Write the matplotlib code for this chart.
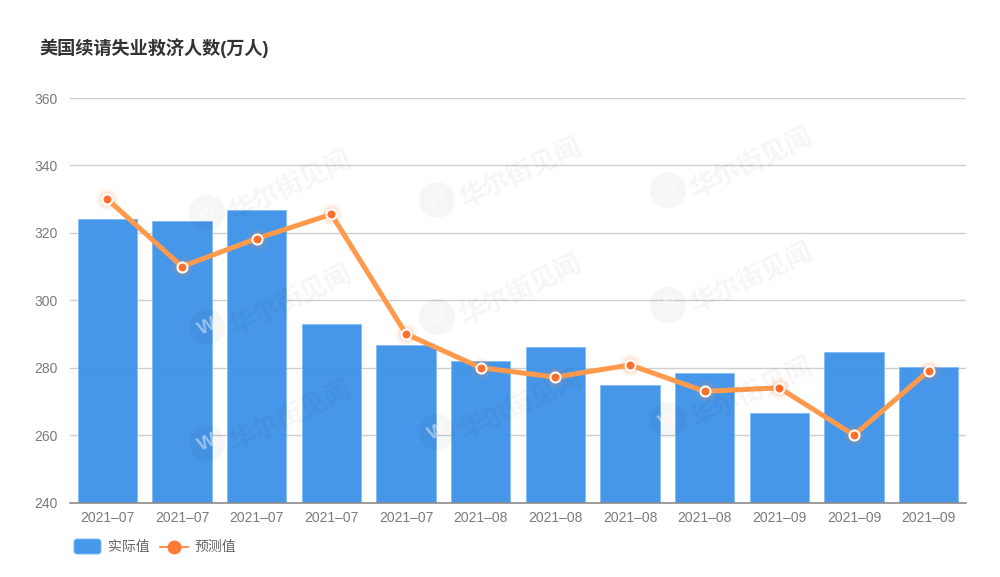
import matplotlib
matplotlib.use('Agg')
import matplotlib.pyplot as plt
from matplotlib.patches import Circle, FancyBboxPatch
from matplotlib.lines import Line2D

plt.rcParams['font.family'] = ['Liberation Sans', 'Noto Sans CJK SC', 'DejaVu Sans']

months = ['2021-07'] * 5 + ['2021-08'] * 4 + ['2021-09'] * 3
actual = [324.2, 323.6, 326.9, 293.0, 286.6, 282.0, 286.2, 274.9, 278.3, 266.6, 284.5, 280.2]
forecast = [330.0, 310.0, 318.3, 325.5, 290.0, 280.0, 277.2, 280.8, 273.0, 274.0, 260.0, 279.0]
yticks = [240, 260, 280, 300, 320, 340, 360]

W, H = 1000, 577
fig = plt.figure(figsize=(10, 5.77), dpi=100)
ax = fig.add_axes([70 / W, 1 - 502.5 / H, 896 / W, 404.5 / H])

x = list(range(len(months)))
ax.bar(x, actual, width=0.795, color='#3e93e9', alpha=0.96, edgecolor='#7ab8f4', linewidth=0.5, zorder=2)

# glow under the points
for size, a in [(260, 0.05), (190, 0.07), (130, 0.10)]:
    ax.scatter(x, forecast, s=size, color='#ff8a4a', alpha=a, linewidths=0, zorder=3)
ax.plot(x, forecast, color='#ff9a4d', lw=3.6, zorder=4, solid_joinstyle='round')
ax.plot(x, forecast, ls='none', marker='o', ms=7.2, mfc='#ff6f2c', mec='white', mew=1.5, zorder=5)

ax.set_xlim(-0.5, 11.5)
ax.set_ylim(240, 360)
ax.set_yticks(yticks)
ax.set_xticks(x)
ax.set_xticklabels([m.replace('-', '\u2013') for m in months])
ax.tick_params(axis='both', length=0, labelsize=10, labelcolor='#7a7a7a')
ax.tick_params(axis='x', pad=6)
ax.tick_params(axis='y', pad=9)
ax.grid(axis='y', color='#cfcfcf', lw=1, zorder=1)
ax.set_axisbelow(True)
for s in ['top', 'left', 'right']:
    ax.spines[s].set_visible(False)
ax.spines['bottom'].set_color('#8c8c8c')
ax.spines['bottom'].set_linewidth(1.2)
ax.spines['bottom'].set_zorder(6)

# watermarks on top of everything, pixel coords
overlay = fig.add_axes([0, 0, 1, 1], facecolor='none')
overlay.set_xlim(0, W)
overlay.set_ylim(H, 0)
overlay.axis('off')
for cx, cy in [(207, 213), (437, 200), (668, 190),
               (207, 327), (437, 317), (668, 305),
               (207, 443), (437, 432), (668, 420)]:
    overlay.add_patch(Circle((cx, cy), 18, color='black', alpha=0.035, lw=0))
    overlay.text(cx, cy, 'W', color='white', alpha=0.45, fontsize=14, fontweight='bold',
                 ha='center', va='center', rotation=25)
    overlay.text(cx + 24, cy + 2, '华尔街见闻', color='black', alpha=0.04, fontsize=19,
                 fontweight='bold', ha='left', va='center', rotation=25, rotation_mode='anchor')

overlay.text(40, 48, '美国续请失业救济人数(万人)', fontsize=13.1, fontweight='bold',
             color='#333333', ha='left', va='center')

# legend
overlay.add_patch(FancyBboxPatch((76, 541), 23, 11, boxstyle='round,pad=2,rounding_size=3',
                                 facecolor='#4598ea', edgecolor='#7ab8f4', lw=0.6))
overlay.text(108, 547, '实际值', fontsize=10, color='#666666', ha='left', va='center')
overlay.add_line(Line2D([160, 188], [546.5, 546.5], color='#ff7a33', lw=1.2))
overlay.add_line(Line2D([174], [546.5], marker='o', ms=9, color='#ff7a33', lw=0))
overlay.text(194, 547, '预测值', fontsize=10, color='#666666', ha='left', va='center')

fig.savefig('out.png', dpi=100, facecolor='white')
